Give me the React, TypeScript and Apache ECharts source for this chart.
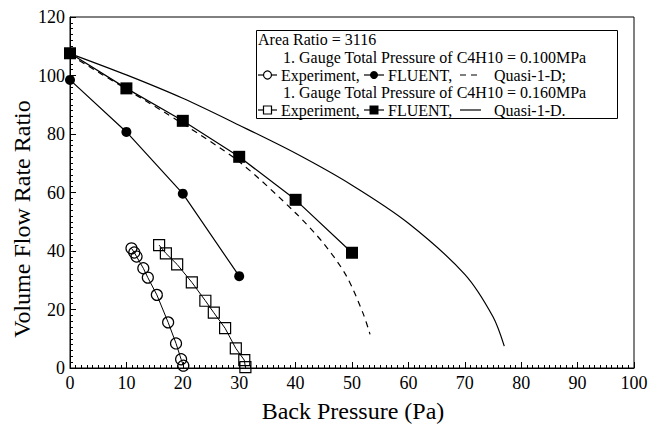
import React, { useEffect, useRef } from "react";
import * as echarts from "echarts";

// Experiment, 0.100 MPa (open circles)
const expCircleX = [10.9, 11.4, 11.8, 13.0, 13.8, 15.4, 17.4, 18.8, 19.7, 20.1];
const expCircleY = [40.9, 39.5, 38.1, 34.1, 30.9, 25.0, 15.6, 8.4, 3.0, 0.8];
// FLUENT, 0.100 MPa (filled circles)
const fluentCircleX = [0, 10, 20, 30];
const fluentCircleY = [98.5, 80.7, 59.6, 31.4];
// Quasi-1-D, 0.100 MPa (dashed)
const quasi100X = [0, 10, 20, 30, 40, 45, 49, 52, 53.2];
const quasi100Y = [107, 95.3, 83.5, 70.5, 53, 42.5, 31.5, 18.5, 11.5];
// Experiment, 0.160 MPa (open squares)
const expSquareX = [15.8, 17.0, 19.0, 21.6, 24.0, 25.5, 27.5, 29.4, 30.9, 31.1];
const expSquareY = [42.0, 39.2, 35.4, 29.3, 23.0, 18.9, 13.6, 6.7, 2.7, 0.3];
// FLUENT, 0.160 MPa (filled squares)
const fluentSquareX = [0, 10, 20, 30, 40, 50];
const fluentSquareY = [107.6, 95.6, 84.5, 72.2, 57.5, 39.4];
// Quasi-1-D, 0.160 MPa (solid)
const quasi160X = [0, 10, 20, 30, 40, 50, 60, 70, 75, 77];
const quasi160Y = [107.5, 100.2, 92.2, 83, 73.4, 62.5, 49.5, 32, 17.5, 7.5];

const xTicks = [0, 100, 10];
const yTicks = [0, 120, 20];

const legendLines = [
  "Area Ratio = 3116",
  "1. Gauge Total Pressure of C4H10 = 0.100MPa",
  "1. Gauge Total Pressure of C4H10 = 0.160MPa",
];

const FONT = "'Liberation Serif', 'Times New Roman', Times, serif";

function zip(xs: number[], ys: number[]) {
  return xs.map((x, i) => [x, ys[i]]);
}

export default function App() {
  const ref = useRef<HTMLDivElement>(null);
  useEffect(() => {
    document.body.style.margin = "0";
    const chart = echarts.init(ref.current!, null, { renderer: "svg" });
    const axisCommon = {
      type: "value" as const,
      splitLine: { show: false },
      axisLine: { show: true, lineStyle: { color: "#000", width: 1 } },
      axisTick: { show: true, inside: true, length: 6, lineStyle: { color: "#000" } },
      minorTick: { show: true, splitNumber: 10, length: 3, lineStyle: { color: "#000" } },
      axisLabel: { color: "#000", fontFamily: FONT, fontSize: 18 },
    };
    const txt = (text: string, x: number, y: number, extra: any = {}) => ({
      type: "text",
      z: 101,
      style: {
        text,
        x,
        y,
        fill: "#000",
        fontFamily: FONT,
        fontSize: 16,
        verticalAlign: "middle",
        align: "left",
        ...extra,
      },
    });
    const seg = (x1: number, x2: number, y: number, dash?: number[]) => ({
      type: "line",
      z: 101,
      shape: { x1, y1: y, x2, y2: y },
      style: { stroke: "#000", lineWidth: 1.2, lineDash: dash },
    });
    const L1 = 39, L2 = 57.5, L3 = 75, L4 = 92.5, L5 = 110;
    const option: any = {
      animation: false,
      textStyle: { fontFamily: FONT },
      grid: { left: 70, right: 27, top: 17, bottom: 56, show: true, borderColor: "#000", borderWidth: 1 },
      xAxis: { ...axisCommon, min: xTicks[0], max: xTicks[1], interval: xTicks[2], axisLabel: { ...axisCommon.axisLabel, margin: 6 } },
      yAxis: { ...axisCommon, min: yTicks[0], max: yTicks[1], interval: yTicks[2], axisLabel: { ...axisCommon.axisLabel, margin: 5 } },
      series: [
        {
          type: "line", data: zip(quasi100X, quasi100Y), smooth: 0.3, symbol: "none",
          lineStyle: { color: "#000", width: 1.2, type: [6, 5] }, z: 2,
        },
        {
          type: "line", data: zip(quasi160X, quasi160Y), smooth: 0.3, symbol: "none",
          lineStyle: { color: "#000", width: 1.2 }, z: 2,
        },
        {
          type: "line", data: zip(fluentCircleX, fluentCircleY), symbol: "circle", symbolSize: 10,
          lineStyle: { color: "#000", width: 1.2 }, itemStyle: { color: "#000" }, z: 3,
        },
        {
          type: "line", data: zip(fluentSquareX, fluentSquareY), symbol: "rect", symbolSize: 12,
          lineStyle: { color: "#000", width: 1.2 }, itemStyle: { color: "#000" }, z: 3,
        },
        {
          type: "line", data: zip(expCircleX, expCircleY), symbol: "circle", symbolSize: 11,
          lineStyle: { color: "#000", width: 1 },
          itemStyle: { color: "rgba(0,0,0,0)", borderColor: "#000", borderWidth: 1.2 }, z: 3,
        },
        {
          type: "line", data: zip(expSquareX, expSquareY), symbol: "rect", symbolSize: 11,
          lineStyle: { color: "#000", width: 1 },
          itemStyle: { color: "rgba(0,0,0,0)", borderColor: "#000", borderWidth: 1.2 }, z: 3,
        },
      ],
      graphic: [
        txt("Back Pressure (Pa)", 353, 411, { fontSize: 24, align: "center" }),
        {
          type: "text", z: 101, x: 22, y: 219, rotation: Math.PI / 2,
          style: { text: "Volume Flow Rate Ratio", x: 0, y: 0, fill: "#000", fontFamily: FONT, fontSize: 24, align: "center", verticalAlign: "middle" },
        },
        {
          type: "rect", z: 100,
          shape: { x: 256.5, y: 30.5, width: 361, height: 88 },
          style: { fill: "#fff", stroke: "#000", lineWidth: 1 },
        },
        txt(legendLines[0], 258, L1),
        txt(legendLines[1], 283, L2),
        seg(258, 277, L3),
        { type: "circle", z: 102, shape: { cx: 267.5, cy: L3, r: 4 }, style: { fill: "#fff", stroke: "#000", lineWidth: 1.2 } },
        txt("Experiment,", 281, L3),
        seg(364, 384, L3),
        { type: "circle", z: 102, shape: { cx: 374, cy: L3, r: 4 }, style: { fill: "#000" } },
        txt("FLUENT,", 388, L3),
        seg(460, 481, L3, [6, 5]),
        txt("Quasi-1-D;", 494, L3),
        txt(legendLines[2], 283, L4),
        seg(258, 277, L5),
        { type: "rect", z: 102, shape: { x: 263.5, y: L5 - 4, width: 8, height: 8 }, style: { fill: "#fff", stroke: "#000", lineWidth: 1.2 } },
        txt("Experiment,", 281, L5),
        seg(364, 384, L5),
        { type: "rect", z: 102, shape: { x: 369.5, y: L5 - 4.5, width: 9, height: 9 }, style: { fill: "#000" } },
        txt("FLUENT,", 388, L5),
        seg(460, 481, L5),
        txt("Quasi-1-D.", 494, L5),
      ],
    };
    chart.setOption(option);
    return () => chart.dispose();
  }, []);
  return <div ref={ref} style={{ position: "fixed", left: 0, top: 0, width: 661, height: 424, background: "#fff" }} />;
}
